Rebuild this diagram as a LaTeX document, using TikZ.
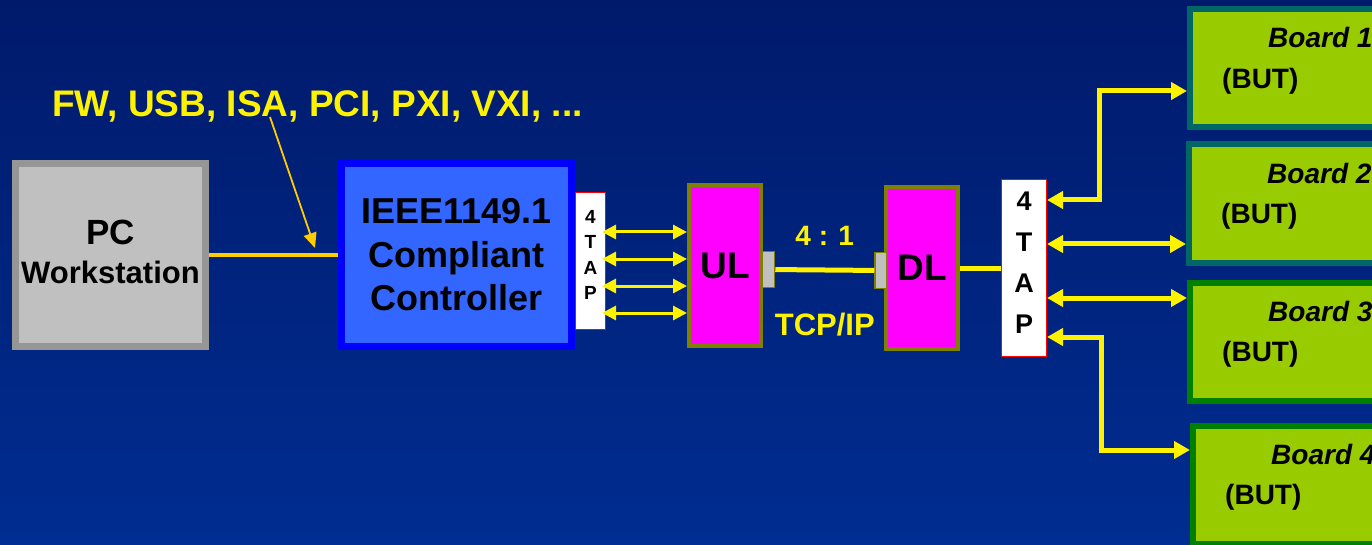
\documentclass[tikz,border=0pt]{standalone}
\usepackage{fontspec}
\setmainfont{Liberation Sans}
\usetikzlibrary{positioning, arrows.meta}

\definecolor{bgTop}{RGB}{0,26,107}
\definecolor{bgBot}{RGB}{0,45,145}
\definecolor{pcFill}{HTML}{C0C0C0}
\definecolor{pcLine}{HTML}{969696}
\definecolor{ctrlFill}{HTML}{3366FF}
\definecolor{ctrlLine}{HTML}{0000FF}
\definecolor{linkFill}{HTML}{FF00FF}
\definecolor{olive}{HTML}{808000}
\definecolor{gold}{HTML}{FFCC00}
\definecolor{boardFill}{HTML}{99CC00}
\definecolor{bTeal}{HTML}{006666}
\definecolor{bGreen}{HTML}{008000}

\begin{document}
\begin{tikzpicture}[x=1pt, y=-1pt,
    box/.style={draw, align=center, font=\bfseries, inner sep=0pt},
    pcbox/.style={box, fill=pcFill, draw=pcLine, line width=7pt,
                  minimum width=190pt, minimum height=183pt,
                  font=\bfseries\fontsize{31}{39}\selectfont},
    ctrlbox/.style={box, fill=ctrlFill, draw=ctrlLine, line width=7pt,
                  minimum width=230pt, minimum height=183pt,
                  font=\bfseries\fontsize{36}{43.5}\selectfont},
    tapbox/.style={box, fill=white, draw=red, line width=1pt},
    ulbox/.style={box, fill=linkFill, draw=olive, line width=4pt,
                  minimum width=72pt, minimum height=161pt,
                  font=\bfseries\fontsize{37}{40}\selectfont},
    port/.style={draw=olive, fill=pcFill, line width=1.5pt, inner sep=0pt,
                 minimum width=12pt, minimum height=36pt},
    board/.style={draw=#1, fill=boardFill, line width=6pt, inner sep=0pt,
                  minimum width=294pt, minimum height=118pt},
    btext/.style={anchor=west, inner sep=0pt, font=\bfseries\fontsize{28}{32}\selectfont},
    ylabel/.style={text=yellow, inner sep=0pt, font=\bfseries},
    tapArr/.style={{Triangle[length=14pt,width=14pt]}-{Triangle[length=14pt,width=14pt]},
                   yellow, line width=3pt},
    busArr/.style={{Triangle[length=16pt,width=17pt]}-{Triangle[length=16pt,width=17pt]},
                   yellow, line width=5pt}
  ]
  \useasboundingbox (0,0) rectangle (1372,545);
  \clip (0,0) rectangle (1372,545);
  \shade[top color=bgTop, bottom color=bgBot] (0,0) rectangle (1372,545);

  % host side
  \node[pcbox, text depth=6pt] (pc) at (110.5,255)
    {{\fontsize{35}{39}\selectfont PC}\\Workstation};
  \node[ctrlbox] (ctrl) at (456.5,255) {IEEE1149.1\\Compliant\\Controller};
  \node[tapbox, right=0pt of ctrl, yshift=-6pt, minimum width=30pt, minimum height=137pt,
        font=\bfseries\fontsize{19}{25.5}\selectfont, text depth=12pt] (tapL) {4\\T\\A\\P};
  \node[ylabel, anchor=base west, font=\bfseries\fontsize{37}{40}\selectfont] (bus) at (52,117)
    {FW, USB, ISA, PCI, PXI, VXI, ...};
  \coordinate (busTip) at (315,248);

  \draw[gold, line width=4pt] (pc) -- (ctrl);
  \draw[-{Triangle[length=15pt,width=13pt]}, gold, line width=1.8pt]
    ([xshift=218pt]bus.base west) -- (busTip);

  % upload / download link
  \node[ulbox] (ul) at (725,265.5) {UL};
  \node[ulbox] (dl) at (922,268) {DL};
  \node[port] (ulp) at (768.5,269.5) {};
  \node[port] (dlp) at (881,270.5) {};
  \draw[yellow, line width=5pt] (ulp) --
    node[ylabel, above=22pt, font=\bfseries\fontsize{28}{32}\selectfont] {4 : 1}
    node[ylabel, below=41pt, font=\bfseries\fontsize{31}{36}\selectfont] {TCP/IP} (dlp);

  \foreach \dy in {29,2,-25,-52}
    \draw[tapArr] ([yshift=\dy pt, xshift=-4pt]tapL.east) -- ([yshift=\dy pt]tapL.east -| ul.west);

  % boards under test
  \node[tapbox, minimum width=45pt, minimum height=177pt,
        font=\bfseries\fontsize{27}{41}\selectfont, text depth=11pt] (tapR) at (1024,268) {4\\T\\A\\P};
  \draw[yellow, line width=5pt] (dl) -- (tapR);

  \foreach \i/\x/\y/\c in {1/1337/68/bTeal, 2/1336/203.5/bTeal, 3/1337/341.5/bGreen, 4/1340/484.5/bGreen} {
    \node[board=\c] (b\i) at (\x,\y) {};
    \node[btext] at ([xshift=81pt, yshift=-32pt]b\i.north west) {\textit{Board \i}};
    \node[btext] at ([xshift=35pt, yshift=-75pt]b\i.north west) {(BUT)};
  }

  \draw[busArr] ([yshift=68pt]tapR.east) -- ++(52,0) |- ([yshift=-23pt]b1.west);
  \draw[busArr] ([yshift=24pt]tapR.east) -- ([yshift=24pt]tapR.east -| b2.west);
  \draw[busArr] ([yshift=-30pt]tapR.east) -- ([yshift=-30pt]tapR.east -| b3.west);
  \draw[busArr] ([yshift=-69pt]tapR.east) -- ++(54,0) |- ([yshift=34.5pt]b4.west);
\end{tikzpicture}
\end{document}
